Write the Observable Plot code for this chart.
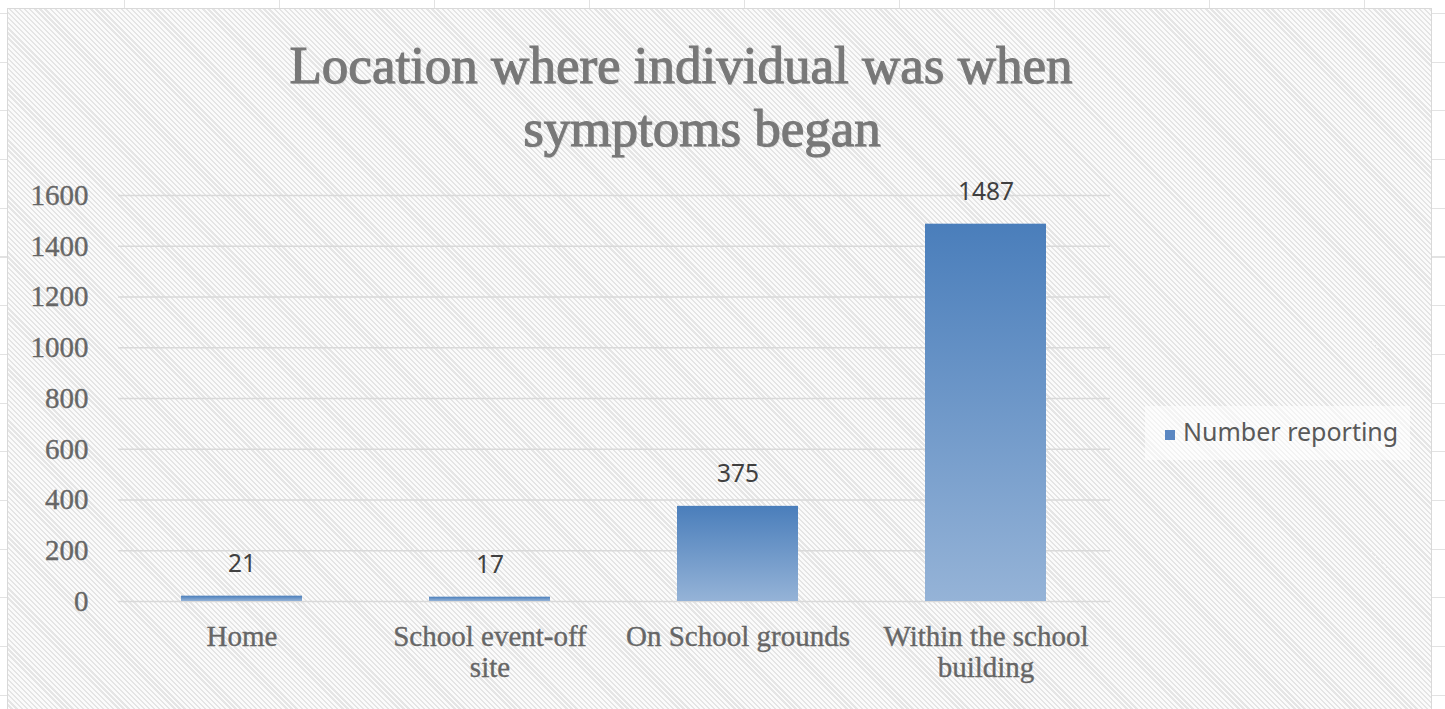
<!DOCTYPE html>
<html>
<head>
<meta charset="utf-8">
<script src="https://cdn.jsdelivr.net/npm/d3@7"></script>
<script src="https://cdn.jsdelivr.net/npm/@observablehq/plot@0.6"></script>
<style>
  html, body { margin: 0; padding: 0; }
  body {
    width: 1445px; height: 709px; overflow: hidden; position: relative;
    background-color: #ffffff;
    background-image:
      repeating-linear-gradient(90deg, transparent 0 124px, #e2e2e2 124px 125px, transparent 125px 155px),
      repeating-linear-gradient(180deg, transparent 0 13px, #e2e2e2 13px 14px, transparent 14px 48.7px);
  }
  #chart {
    position: absolute; left: 7px; top: 8px; width: 1425px; height: 702px;
    box-sizing: border-box; border: 1px solid #d9d9d9;
    background-color: #fbfbfb;
    background-image: repeating-linear-gradient(45deg, #fbfbfb 0 2px, #e5e5e5 2px 3.6px);
  }
  .title {
    position: relative; height: 159px; box-sizing: border-box;
    font-family: "Liberation Serif", serif; font-size: 53px; color: #787878;
    -webkit-text-stroke: 1.1px #787878;
    text-shadow: 1px 1px 1px rgba(0,0,0,0.15);
  }
  .title div { position: absolute; white-space: nowrap; line-height: 59px; transform: translateX(-50%); }
  #legend {
    position: absolute; left: 1137px; top: 397px; width: 265px; height: 54px;
    background: rgba(255,255,255,0.55);
    font-family: "Noto Sans", sans-serif; font-size: 25px; color: #595959;
  }
  #legend .sw { position: absolute; left: 20px; top: 24px; width: 10px; height: 10px; background: #5b87c2; }
  #legend .lb { position: absolute; left: 38px; top: 8px; line-height: 34px; white-space: nowrap; }
  #plot svg { display: block; }
  #plot svg g[aria-label="y-axis tick label"] text,
  #plot svg g[aria-label="x-axis tick label"] text { stroke: #666666; stroke-width: 0.35px; }
</style>
</head>
<body>
<svg width="0" height="0" style="position:absolute">
  <defs>
    <linearGradient id="barGrad" x1="0" y1="0" x2="0" y2="1">
      <stop offset="0" stop-color="#4a7ebb"></stop>
      <stop offset="1" stop-color="#95b3d7"></stop>
    </linearGradient>
  </defs>
</svg>
<div id="chart">
  <div class="title">
    <div id="t1" style="left:673px; top:27px;">Location where individual was when</div>
    <div id="t2" style="left:694px; top:90px;">symptoms began</div>
  </div>
  <div id="plot"></div>
  <div id="legend"><span class="sw"></span><span class="lb" id="legendLabel"></span></div>
</div>
<script>
const categories = ["Home", "School event-off site", "On School grounds", "Within the school building"];
const tickLabels = ["Home", "School event-off\nsite", "On School grounds", "Within the school\nbuilding"];
const values = [21, 17, 375, 1487];
const yTicks = [0, 200, 400, 600, 800, 1000, 1200, 1400, 1600];
const seriesName = "Number reporting";

document.getElementById("legendLabel").textContent = seriesName;

const data = categories.map((c, i) => ({category: c, value: values[i]}));
const labelMap = new Map(categories.map((c, i) => [c, tickLabels[i]]));

const plot = Plot.plot({
  width: 1423,
  height: 541,
  marginTop: 27,
  marginBottom: 108,
  marginLeft: 110,
  marginRight: 321,
  style: {background: "transparent", fontFamily: "Liberation Serif, serif", fontSize: "29px", color: "#666666", overflow: "visible"},
  x: {domain: categories, paddingInner: 0.512, paddingOuter: 0.256, label: null},
  y: {domain: [0, 1600], label: null},
  marks: [
    Plot.gridY(yTicks, {stroke: "#d9d9d9", strokeOpacity: 1, strokeWidth: 1.5}),
    Plot.barY(data, {x: "category", y: "value", fill: "url(#barGrad)"}),
    Plot.axisY(yTicks, {tickSize: 0, tickPadding: 30, fontSize: 29, tickFormat: d => String(d), label: null}),
    Plot.axisX({tickSize: 0, tickPadding: 22, fontSize: 29, lineHeight: 1.07, tickFormat: d => labelMap.get(d), label: null}),
    Plot.text(data, {x: "category", y: "value", text: d => String(d.value), dy: -32,
      fontFamily: "Noto Sans, sans-serif", fontSize: 24.5, fill: "#404040"})
  ]
});
document.getElementById("plot").appendChild(plot);
</script>
</body>
</html>
